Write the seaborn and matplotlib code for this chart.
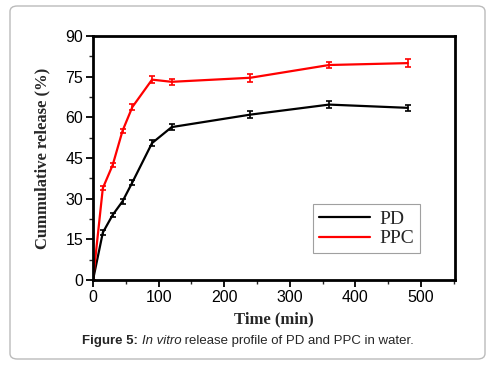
import matplotlib
matplotlib.use("Agg")
import matplotlib.pyplot as plt
import seaborn as sns
import pandas as pd
from matplotlib.patches import FancyBboxPatch
from matplotlib.ticker import MultipleLocator
from matplotlib.lines import Line2D

sns.set_theme(style="white")
plt.rcParams['font.family'] = ['Liberation Sans', 'DejaVu Sans']

time = [0, 15, 30, 45, 60, 90, 120, 240, 360, 480]
pd_vals = [0, 17.5, 24, 29, 36, 50.5, 56.4, 61, 64.7, 63.5]
ppc_vals = [0, 33.9, 42.4, 55, 63.8, 73.9, 73.1, 74.6, 79.3, 80]
pd_err = [0, 0.8, 0.8, 1.0, 1.0, 1.2, 1.2, 1.2, 1.4, 1.1]
ppc_err = [0, 0.7, 0.7, 0.8, 1.0, 1.2, 1.2, 1.4, 1.1, 1.6]

df = pd.DataFrame({
    "Time": time + time,
    "Release": pd_vals + ppc_vals,
    "Err": pd_err + ppc_err,
    "Sample": ["PD"] * len(time) + ["PPC"] * len(time),
})
palette = {"PD": "black", "PPC": "red"}

fig = plt.figure(figsize=(4.93, 3.67), dpi=100)
frame = FancyBboxPatch((10 / 493, 1 - 359 / 367), 475 / 493, 353 / 367,
                       boxstyle="round,pad=0,rounding_size=0.015",
                       transform=fig.transFigure, facecolor="white",
                       edgecolor="#bbbbbb", linewidth=1.0, zorder=-5)
fig.patches.append(frame)

ax = fig.add_axes([93 / 493, 1 - 280 / 367, 362 / 493, 244 / 367])
ax.set_zorder(2)
ax.patch.set_alpha(0)
sns.lineplot(data=df, x="Time", y="Release", hue="Sample", palette=palette,
             ax=ax, linewidth=1.6, legend=False)
for name, sub in df.groupby("Sample"):
    ax.errorbar(sub["Time"], sub["Release"], yerr=sub["Err"], fmt="none",
                ecolor=palette[name], elinewidth=1.2, capsize=2.5, capthick=1.2)

ax.set_xlim(0, 552)
ax.set_ylim(0, 90)
ax.xaxis.set_major_locator(MultipleLocator(100))
ax.xaxis.set_minor_locator(MultipleLocator(50))
ax.yaxis.set_major_locator(MultipleLocator(15))
ax.yaxis.set_minor_locator(MultipleLocator(7.5))
ax.tick_params(axis="both", which="major", direction="out", length=5, width=1.3,
               labelsize=11.5, colors="black", bottom=True, left=True, pad=2)
ax.tick_params(axis="both", which="minor", direction="out", length=3, width=1.0,
               bottom=True, left=True)
for sp in ax.spines.values():
    sp.set_color("black")
    sp.set_linewidth(2)

ax.set_xlabel("Time (min)", family=["Liberation Serif"], fontweight="bold",
              fontsize=12, labelpad=5)
ax.set_ylabel("Cummulative release (%)", family=["Liberation Serif"],
              fontweight="bold", fontsize=12, labelpad=11)

handles = [Line2D([], [], color="black", lw=1.6), Line2D([], [], color="red", lw=1.6)]
leg = ax.legend(handles, ["PD", "PPC"], loc="lower right",
                bbox_to_anchor=(0.903, 0.11), borderaxespad=0,
                prop={"family": "Liberation Serif", "size": 14},
                frameon=True, fancybox=False, edgecolor="#888888",
                handlelength=2.6, handletextpad=0.5, borderpad=0.3, labelspacing=0.1)
leg.get_frame().set_linewidth(0.8)

cap_y = 1 - 341 / 367
t1 = fig.text(82 / 493, cap_y, "Figure 5: ", fontsize=9.5, fontweight="bold", va="center")
fig.canvas.draw()
r = fig.canvas.get_renderer()
bb = t1.get_window_extent(r)
t2 = fig.text(bb.x1 / 493, cap_y, "In vitro", fontsize=9.5, fontstyle="italic", va="center")
bb2 = t2.get_window_extent(r)
fig.text(bb2.x1 / 493, cap_y, " release profile of PD and PPC in water.", fontsize=9.5, va="center")

fig.savefig("out.png", dpi=100)
